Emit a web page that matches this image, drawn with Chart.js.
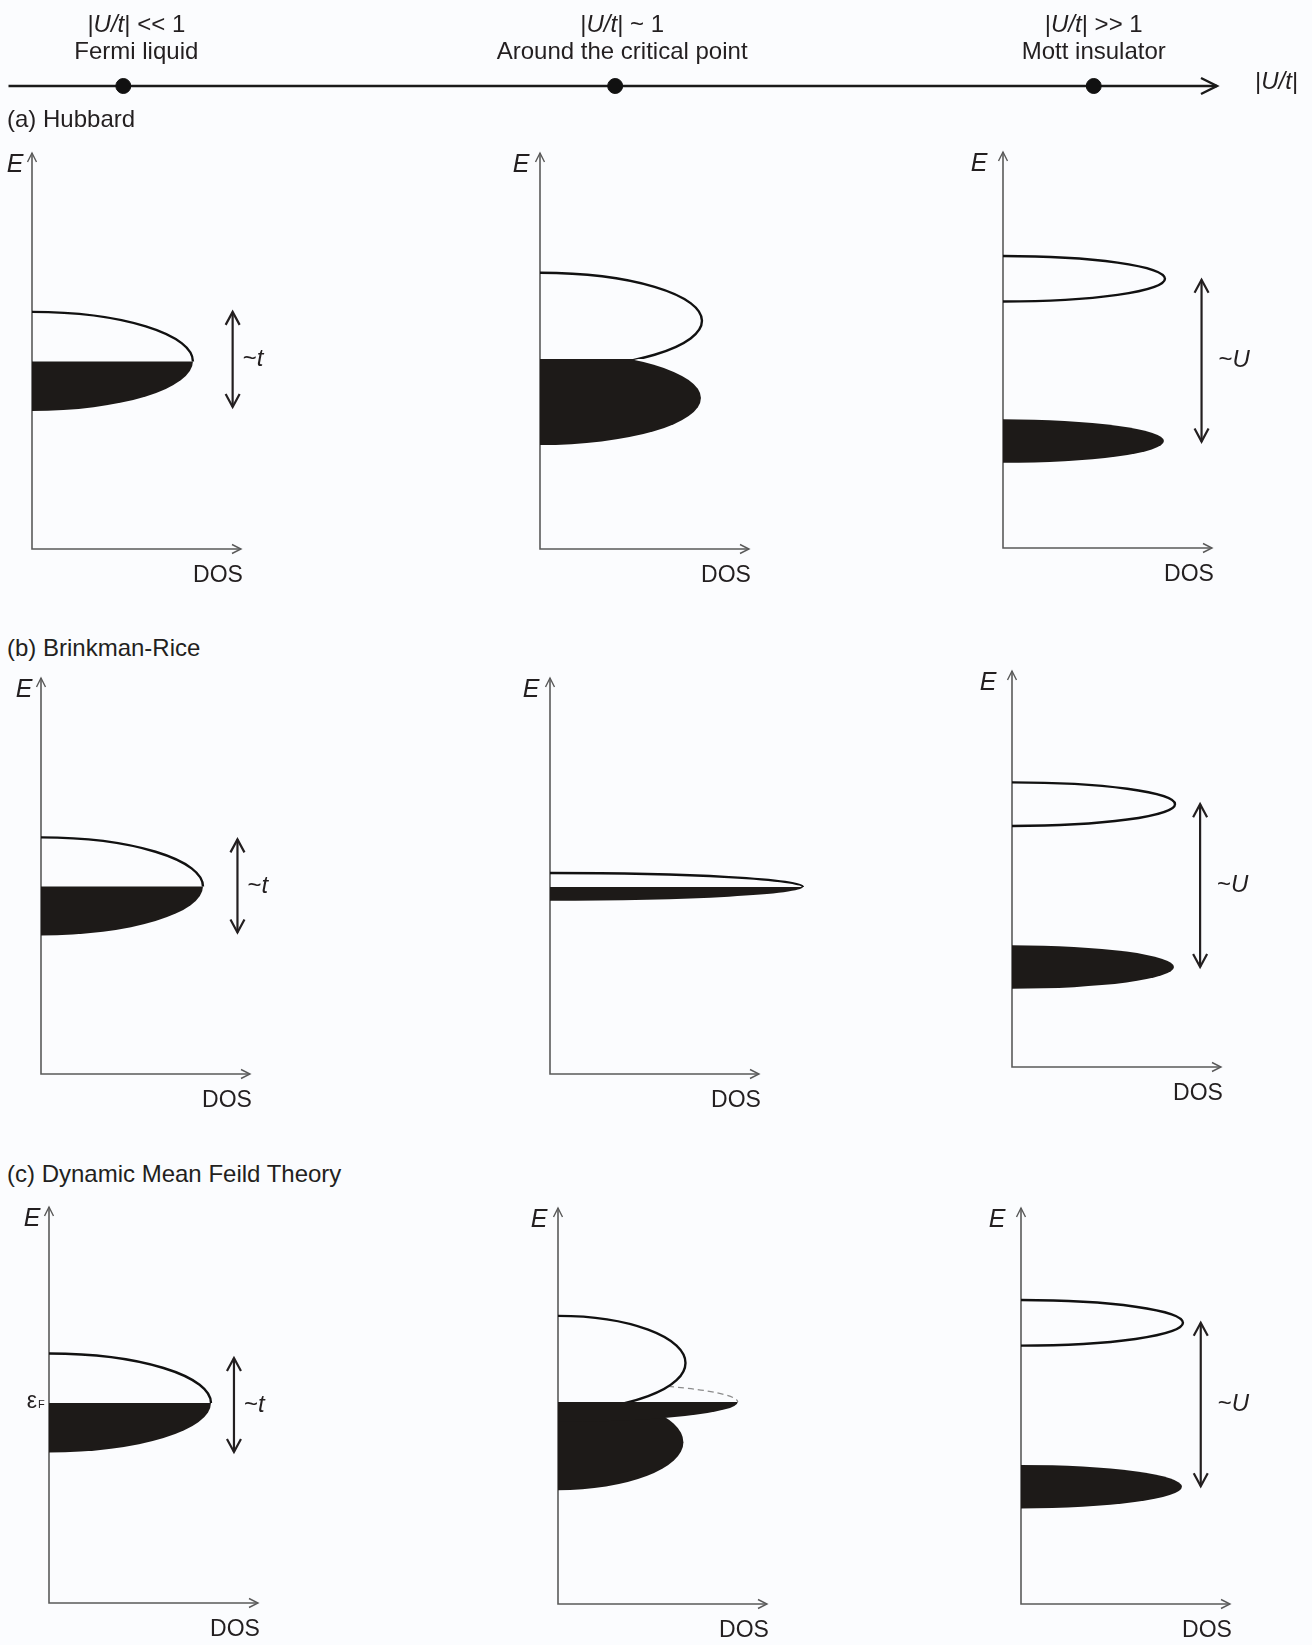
<!DOCTYPE html>
<html>
<head>
<meta charset="utf-8">
<script src="https://cdn.jsdelivr.net/npm/chart.js@4.4.1/dist/chart.umd.min.js"></script>
<style>
  body { margin: 0; background: #fbfcfe; }
  #page { position: relative; width: 1312px; height: 1645px; overflow: hidden;
          font-family: "Liberation Sans", Arial, sans-serif; color: #231f20; }
  .model { position: absolute; left: 7px; font-size: 24px; line-height: 24px; white-space: nowrap; }
</style>
</head>
<body>
<div id="page"></div>
<script>
// ---- data ----
const regimes = ['|U/t| << 1', '|U/t| ~ 1', '|U/t| >> 1'];
const regimeNames = ['Fermi liquid', 'Around the critical point', 'Mott insulator'];
const regimeU = [0.095, 0.502, 0.898];          // position along the |U/t| axis (0..1)
const models = ['(a) Hubbard', '(b) Brinkman-Rice', '(c) Dynamic Mean Feild Theory'];

// one entry per panel, row by row (model) and column by column (regime)
// energy axis runs -4..4, DOS axis 0..1 (the arrow tip)
const bandCentre = [[-0.21], [0.61, -0.95], [1.44, -1.84],
                    [-0.21], [-0.22], [1.31, -1.98],
                    [0.04], [0.87, -0.73, 0.08], [1.68, -1.63]];
const bandHalfWidth = [[1.0], [0.97, 0.95], [0.46, 0.44],
                       [0.99], [0.28], [0.44, 0.44],
                       [1.0], [0.95, 0.97, 0.40], [0.46, 0.44]];
const bandPeak = [[0.77], [0.775, 0.77], [0.775, 0.77],
                  [0.775], [1.21], [0.78, 0.775],
                  [0.775], [0.61, 0.60, 0.86], [0.775, 0.77]];
const bandKind = [['band'], ['band', 'lower'], ['band', 'lower'],
                  ['band'], ['band'], ['band', 'lower'],
                  ['band'], ['band', 'lower', 'qp'], ['band', 'lower']];
const fermiLevel = [-0.21, -0.16, -0.2, -0.21, -0.22, -0.33, 0.04, 0.08, 0.02];

const gapLabel = ['~t', null, '~U', '~t', null, '~U', '~t', null, '~U'];
const gapAt = [0.96, 0, 0.95, 0.94, 0, 0.90, 0.885, 0, 0.86];
const gapTop = [0.79, 0, 1.42, 0.74, 0, 1.31, 0.95, 0, 1.68];
const gapBottom = [-1.13, 0, -1.85, -1.14, 0, -1.98, -0.95, 0, -1.62];

// ---- layout ----
const BG = '#fbfcfe', INK = '#231f20', FILL = '#1d1a18', AXIS = '#5a5a5a';
const FONT = '"Liberation Sans", Arial, sans-serif';
const AX_W = 209, AX_H = 396;
const PAD = { left: 50, top: 30, right: 110, bottom: 50 };
const panelLeft = [[32, 540, 1003], [41, 550, 1012], [49, 558, 1021]];
const panelBottom = [[549, 549, 548], [1074, 1074, 1067], [1603, 1604, 1604]];
const eLabelDx = [-17, -19, -24];
const modelBaseline = [127, 656, 1182];

const page = document.getElementById('page');

function makeCanvas(left, top, w, h) {
    const c = document.createElement('canvas');
    c.width = w;
    c.height = h;
    c.style.cssText = `position:absolute;left:${left}px;top:${top}px;width:${w}px;height:${h}px`;
    page.appendChild(c);
    return c;
}

function chevron(ctx, x, y, dx, dy, len, half) {
    const px = -dy, py = dx;
    ctx.beginPath();
    ctx.moveTo(x - dx * len + px * half, y - dy * len + py * half);
    ctx.lineTo(x, y);
    ctx.lineTo(x - dx * len - px * half, y - dy * len - py * half);
    ctx.stroke();
}

// draws text where the symbol part (U/t, t, U) is italic
function drawMixed(ctx, parts, x, y, size, align) {
    const widths = parts.map(([s, it]) => {
        ctx.font = `${it ? 'italic ' : ''}${size}px ${FONT}`;
        return ctx.measureText(s).width;
    });
    const total = widths.reduce((a, b) => a + b, 0);
    let cx = align === 'center' ? x - total / 2 : x;
    ctx.textAlign = 'left';
    parts.forEach(([s, it], k) => {
        ctx.font = `${it ? 'italic ' : ''}${size}px ${FONT}`;
        ctx.fillText(s, cx, y);
        cx += widths[k];
    });
}

function splitUt(s) {
    const [a, b] = s.split('U/t');
    return [[a, false], ['U/t', true], [b, false]];
}

// ---- top |U/t| axis ----
const topCanvas = makeCanvas(0, 0, 1312, 135);
new Chart(topCanvas, {
    type: 'scatter',
    data: {
        datasets: [{
            data: regimeU.map(u => ({ x: u, y: 0 })),
            pointRadius: 7.5,
            pointBackgroundColor: '#111',
            pointBorderColor: '#111',
            clip: false
        }]
    },
    options: {
        responsive: false,
        animation: false,
        events: [],
        layout: { padding: { left: 8, right: 95, top: 56, bottom: 19 } },
        plugins: { legend: { display: false }, tooltip: { enabled: false } },
        scales: {
            x: { type: 'linear', min: 0, max: 1, display: false },
            y: { type: 'linear', min: -1, max: 1, display: false }
        }
    },
    plugins: [{
        id: 'uAxis',
        beforeDatasetsDraw(chart) {
            const ctx = chart.ctx, xs = chart.scales.x, ys = chart.scales.y;
            const y = ys.getPixelForValue(0);
            const x1 = xs.getPixelForValue(0), x2 = xs.getPixelForValue(1);
            ctx.save();
            ctx.strokeStyle = '#1a1a1a';
            ctx.lineWidth = 2.4;
            ctx.beginPath();
            ctx.moveTo(x1, y);
            ctx.lineTo(x2, y);
            ctx.stroke();
            chevron(ctx, x2, y, 1, 0, 16, 8);
            ctx.fillStyle = INK;
            ctx.textBaseline = 'alphabetic';
            const labelDx = [13, 7, 0];
            regimeU.forEach((u, k) => {
                const x = xs.getPixelForValue(u) + labelDx[k];
                drawMixed(ctx, splitUt(regimes[k]), x, 32, 24, 'center');
                drawMixed(ctx, [[regimeNames[k], false]], x, 59, 24, 'center');
            });
            drawMixed(ctx, splitUt('|U/t|'), x2 + 38, y + 3, 24, 'left');
            ctx.restore();
        }
    }]
});

models.forEach((m, r) => {
    const d = document.createElement('div');
    d.className = 'model';
    d.style.top = (modelBaseline[r] - 20) + 'px';
    d.textContent = m;
    page.appendChild(d);
});

// ---- DOS panels ----
const bandPlugin = {
    id: 'bands',
    afterDatasetsDraw(chart, args, opts) {
        const i = opts.panel, col = i % 3;
        const ctx = chart.ctx, xs = chart.scales.x, ys = chart.scales.y;
        const bands = chart.data.datasets[0].data;
        const W = chart.width, H = chart.height;
        const x0 = xs.getPixelForValue(0), xR = xs.getPixelForValue(1);
        const yB = ys.getPixelForValue(-4), yT = ys.getPixelForValue(4);
        const yF = ys.getPixelForValue(fermiLevel[i]);

        const halfEllipse = b => {
            const cy = ys.getPixelForValue(b.y);
            const rx = xs.getPixelForValue(b.x) - x0;
            const ry = ys.getPixelForValue(b.y - b.hw) - cy;
            ctx.beginPath();
            ctx.ellipse(x0, cy, rx, ry, 0, -Math.PI / 2, Math.PI / 2);
        };
        const clip = above => {
            ctx.beginPath();
            if (above) ctx.rect(0, 0, W, yF);
            else ctx.rect(0, yF, W, H - yF);
            ctx.clip();
        };

        ctx.save();
        // quasiparticle peak: empty half as a dashed guide
        bands.filter(b => b.kind === 'qp').forEach(b => {
            ctx.save();
            clip(true);
            halfEllipse(b);
            ctx.setLineDash([6, 4]);
            ctx.strokeStyle = '#8c8c8c';
            ctx.lineWidth = 1.3;
            ctx.stroke();
            ctx.restore();
        });
        // empty states hide what lies behind them
        bands.filter(b => b.kind === 'band').forEach(b => {
            ctx.save();
            clip(true);
            halfEllipse(b);
            ctx.closePath();
            ctx.fillStyle = BG;
            ctx.fill();
            ctx.restore();
        });

        // axes
        ctx.strokeStyle = AXIS;
        ctx.lineWidth = 1.6;
        ctx.beginPath();
        ctx.moveTo(x0, yT);
        ctx.lineTo(x0, yB);
        ctx.lineTo(xR, yB);
        ctx.stroke();
        ctx.lineWidth = 1.4;
        chevron(ctx, x0, yT, 0, -1, 9, 4.5);
        chevron(ctx, xR, yB, 1, 0, 9, 4.5);

        // occupied states
        bands.forEach(b => {
            ctx.save();
            clip(false);
            halfEllipse(b);
            ctx.closePath();
            ctx.fillStyle = FILL;
            ctx.fill();
            ctx.restore();
        });
        // outline of empty states
        bands.filter(b => b.kind === 'band').forEach(b => {
            ctx.save();
            clip(true);
            halfEllipse(b);
            ctx.strokeStyle = '#111';
            ctx.lineWidth = 2.4;
            ctx.stroke();
            ctx.restore();
        });

        // gap / bandwidth arrow
        ctx.fillStyle = INK;
        ctx.textBaseline = 'middle';
        if (gapLabel[i]) {
            const gx = xs.getPixelForValue(gapAt[i]);
            const g1 = ys.getPixelForValue(gapTop[i]), g2 = ys.getPixelForValue(gapBottom[i]);
            ctx.strokeStyle = INK;
            ctx.lineWidth = 2.2;
            ctx.beginPath();
            ctx.moveTo(gx, g1);
            ctx.lineTo(gx, g2);
            ctx.stroke();
            chevron(ctx, gx, g1, 0, -1, 13, 7);
            chevron(ctx, gx, g2, 0, 1, 13, 7);
            const lab = gapLabel[i];
            drawMixed(ctx, [[lab[0], false], [lab.slice(1), true]],
                      gx + (lab === '~U' ? 17 : 10), (g1 + g2) / 2, 24, 'left');
        }

        // axis labels
        drawMixed(ctx, [['E', true]], x0 + eLabelDx[col], yT + 12, 25, 'center');
        drawMixed(ctx, [['DOS', false]], x0 + 186, yB + 27, 23, 'center');
        if (i === 6) {
            drawMixed(ctx, [['\u03b5', false]], x0 - 17, yF - 1, 23, 'center');
            drawMixed(ctx, [['F', false]], x0 - 11, yF + 2, 11, 'left');
        }
        ctx.restore();
    }
};

for (let i = 0; i < 9; i++) {
    const r = Math.floor(i / 3), c = i % 3;
    const left = panelLeft[r][c] - PAD.left;
    const top = panelBottom[r][c] - AX_H - PAD.top;
    const canvas = makeCanvas(left, top, PAD.left + AX_W + PAD.right, PAD.top + AX_H + PAD.bottom);
    new Chart(canvas, {
        type: 'scatter',
        data: {
            datasets: [{
                data: bandCentre[i].map((e, k) => ({
                    x: bandPeak[i][k], y: e, hw: bandHalfWidth[i][k], kind: bandKind[i][k]
                })),
                pointRadius: 0,
                clip: false
            }]
        },
        options: {
            responsive: false,
            animation: false,
            events: [],
            layout: { padding: PAD },
            plugins: {
                legend: { display: false },
                tooltip: { enabled: false },
                bands: { panel: i }
            },
            scales: {
                x: { type: 'linear', min: 0, max: 1, display: false },
                y: { type: 'linear', min: -4, max: 4, display: false }
            }
        },
        plugins: [bandPlugin]
    });
}
</script>
</body>
</html>
